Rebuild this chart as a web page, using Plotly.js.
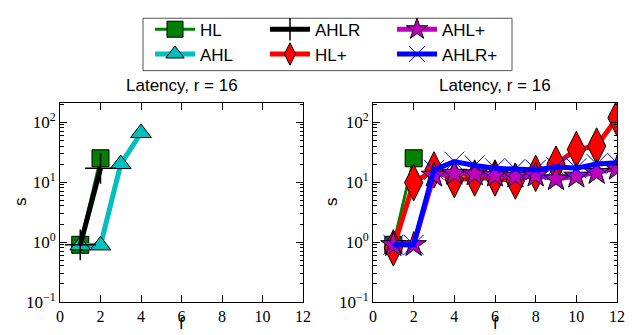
<!DOCTYPE html>
<html>
<head>
<meta charset="utf-8">
<script src="https://cdn.plot.ly/plotly-3.0.1.min.js"></script>
<style>html,body{margin:0;padding:0;background:#fff;}#chart{width:641px;height:335px;}</style>
</head>
<body>
<div id="chart"></div>
<script>
// ---- data ----
const f_HL = [1, 2];
const s_HL = [0.9, 25];
const f_AHL = [1, 2, 3, 4];
const s_AHL = [0.88, 0.88, 20, 66];
const f_AHLR = [1, 2];
const s_AHLR = [0.9, 17];
const f_plus = [1, 2, 3, 4, 5, 6, 7, 8, 9, 10, 11, 12];
const s_HLplus = [0.8, 9.8, 16, 11, 11.7, 11.7, 10.4, 14, 20, 35, 40, 118];
const s_AHLplus = [0.9, 0.9, 13, 14, 13.7, 13, 12.5, 13, 11.3, 12.5, 14.4, 17];
const s_AHLRplus = [0.9, 0.9, 16, 22, 19, 17, 16.5, 16, 18, 17, 20, 21];
const yTickVals = [0.1, 1, 10, 100];
const yTickText = ['10<sup>−1</sup>', '10<sup>0</sup>', '10<sup>1</sup>', '10<sup>2</sup>'];
const xTickVals = [0, 2, 4, 6, 8, 10, 12];
const panelTitle = 'Latency, r = 16';
const xTitle = 'f';
const yTitle = 's';

// ---- layout geometry ----
const W = 641, H = 335, ML = 60, MR = 24, MT = 93, MB = 33;
const PW = W - ML - MR, PH = H - MT - MB;
const px = v => (v - ML) / PW;
const py = v => (H - MB - v) / PH;

const SANS = 'Liberation Sans, Arial, sans-serif';
const SERIF = 'Liberation Serif, DejaVu Serif, serif';

const C = {HL: '#008000', AHL: '#00bfbf', AHLR: '#000000', HLp: '#ff0000', AHLp: '#bf00bf', AHLRp: '#0000ff'};

function tr(x, y, xa, ya, name, color, sym, size, lw, opts) {
  opts = opts || {};
  return Object.assign({
    type: 'scatter', mode: 'lines+markers', x: x, y: y, xaxis: xa, yaxis: ya, name: name,
    line: {color: color, width: lw},
    marker: {symbol: sym, size: size, color: color, line: {color: opts.mlc || '#000', width: opts.mlw || 1}},
    cliponaxis: true
  }, opts.extra || {});
}

const traces = [
  tr(f_HL, s_HL, 'x', 'y', 'HL', C.HL, 'square', 17, 3, {extra: {legend: 'legend'}}),
  tr(f_AHL, s_AHL, 'x', 'y', 'AHL', C.AHL, 'triangle-up', 18, 5, {extra: {legend: 'legend2'}}),
  tr(f_AHLR, s_AHLR, 'x', 'y', 'AHLR', C.AHLR, 'cross-thin', 22, 5, {mlc: '#000', mlw: 1.5, extra: {legend: 'legend3'}}),
  tr(f_HL, s_HL, 'x2', 'y2', 'HL', C.HL, 'square', 17, 3, {extra: {showlegend: false}}),
  tr(f_plus, s_HLplus, 'x2', 'y2', 'HL+', C.HLp, 'diamond-tall', 26, 5, {extra: {legend: 'legend4'}}),
  tr(f_plus, s_AHLplus, 'x2', 'y2', 'AHL+', C.AHLp, 'star', 19, 5, {extra: {legend: 'legend5'}}),
  tr(f_plus, s_AHLRplus, 'x2', 'y2', 'AHLR+', C.AHLRp, 'x-thin', 20, 5, {mlc: C.AHLRp, mlw: 1, extra: {legend: 'legend6'}})
];

const minorVals = [];
[0.1, 1, 10, 100].forEach(d => { for (let k = 2; k <= 9; k++) minorVals.push(d * k); });

function xax(domain, anchor) {
  return {
    domain: domain, anchor: anchor, range: [0, 12], tickvals: xTickVals,
    ticks: 'inside', ticklen: 7, tickwidth: 1, tickcolor: '#000',
    showline: true, linecolor: '#000', linewidth: 1, mirror: 'ticks',
    showgrid: false, zeroline: false,
    tickfont: {family: SERIF, size: 16, color: '#000'}
  };
}
function yax(anchor) {
  return {
    anchor: anchor, type: 'log', range: [-1, 2.32], tickvals: yTickVals, ticktext: yTickText,
    ticks: 'inside', ticklen: 7, tickwidth: 1, tickcolor: '#000',
    minor: {tickvals: minorVals, ticks: 'inside', ticklen: 3.5, tickwidth: 1, tickcolor: '#000', showgrid: false},
    showline: true, linecolor: '#000', linewidth: 1, mirror: 'ticks',
    showgrid: false, zeroline: false,
    tickfont: {family: SERIF, size: 17, color: '#000'}
  };
}

// legend cells: [column marker-center px, row center px]
const colX = [150, 265, 392];
const rowY = [16, 42];
function leg(col, row) {
  return {
    x: px(colX[col]), y: py(rowY[row]), xanchor: 'left', yanchor: 'middle',
    orientation: 'v', bgcolor: 'rgba(0,0,0,0)', borderwidth: 0,
    font: {family: SANS, size: 17, color: '#000'}, itemwidth: 40
  };
}

const tf = {family: SANS, size: 17, color: '#000'};
const annotations = [];
['x', 'x2'].forEach(xa => {
  annotations.push({xref: xa + ' domain', yref: 'paper', x: 0.5, y: py(325), xanchor: 'center', yanchor: 'middle',
    showarrow: false, text: xTitle, font: tf, borderpad: 0});
  annotations.push({xref: xa + ' domain', yref: 'paper', x: 0.5, y: py(75), xanchor: 'center', yanchor: 'middle',
    showarrow: false, text: panelTitle, font: tf});
});
[20, 331].forEach(xp => {
  annotations.push({xref: 'paper', yref: 'paper', x: px(xp), y: py(197), xanchor: 'center', yanchor: 'middle',
    showarrow: false, text: yTitle, textangle: -90, font: tf});
});

const layout = {
  width: W, height: H,
  margin: {l: ML, r: MR, t: MT, b: MB, pad: 0},
  paper_bgcolor: '#fff', plot_bgcolor: '#fff',
  showlegend: true,
  xaxis: xax([0, (303 - ML) / PW], 'y'),
  yaxis: yax('x'),
  xaxis2: xax([(373 - ML) / PW, 1], 'y2'),
  yaxis2: yax('x2'),
  legend: leg(0, 0), legend2: leg(0, 1), legend3: leg(1, 0),
  legend4: leg(1, 1), legend5: leg(2, 0), legend6: leg(2, 1),
  shapes: [{
    type: 'rect', xref: 'paper', yref: 'paper',
    x0: px(143), x1: px(512), y0: py(59), y1: py(4),
    line: {color: '#555', width: 1}, fillcolor: 'rgba(0,0,0,0)', layer: 'below'
  }],
  annotations: annotations
};

Plotly.newPlot('chart', traces, layout, {displayModeBar: false, staticPlot: true});
</script>
</body>
</html>
